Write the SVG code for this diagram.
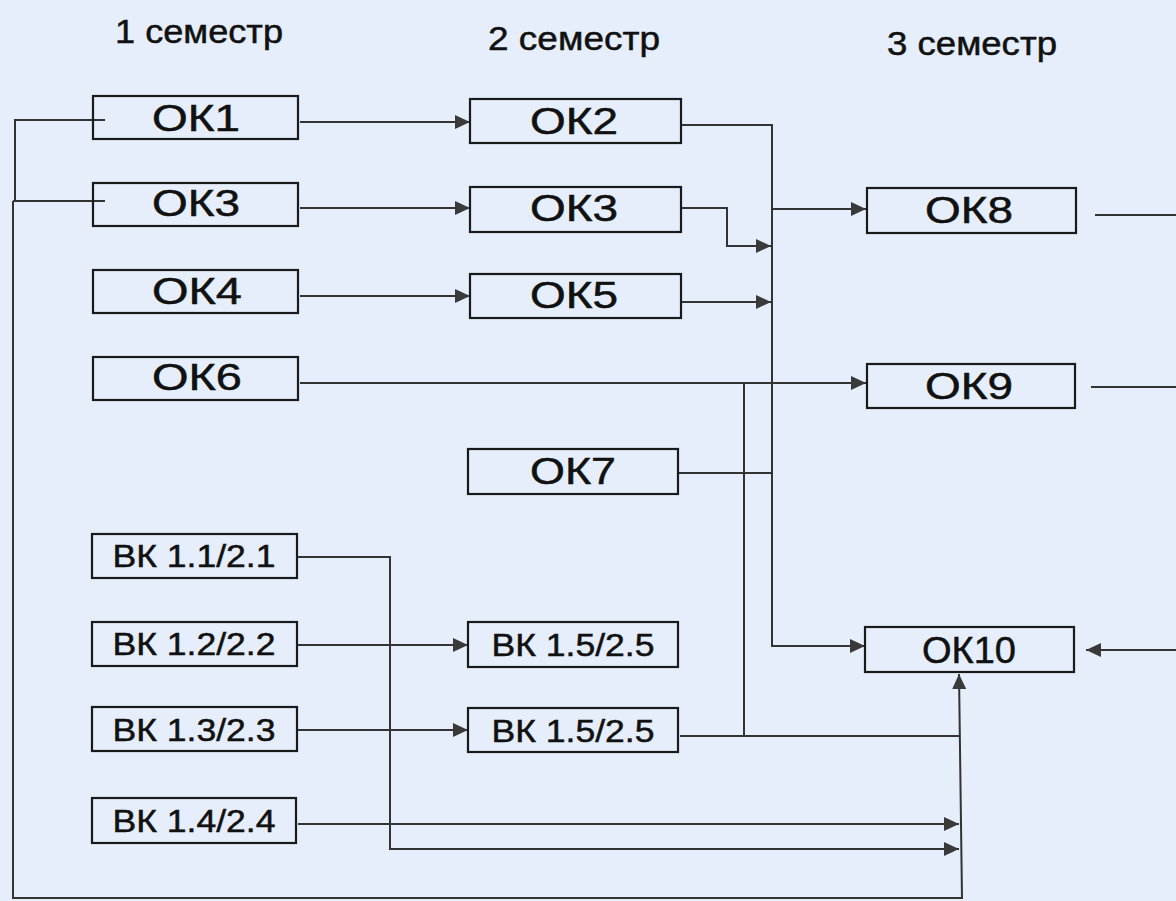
<svg xmlns="http://www.w3.org/2000/svg" width="1176" height="901" viewBox="0 0 1176 901">
<defs>
<marker id="arr" markerUnits="userSpaceOnUse" markerWidth="16" markerHeight="14" refX="15" refY="7" orient="auto">
<path d="M0,0 L15,7 L0,14 Z" fill="#3a3a3a"/>
</marker>
<style>
.box{fill:none;stroke:#1a1a1a;stroke-width:2.2}
.lbl{font-family:"Liberation Sans",Arial,sans-serif;font-size:32px;fill:#111;stroke:#111;stroke-width:0.5;text-anchor:middle}
.ok{font-size:37px}
.ttl{font-family:"Liberation Sans",Arial,sans-serif;font-size:33px;fill:#111;stroke:#111;stroke-width:0.5}
.c{fill:none;stroke:#333;stroke-width:2}
.a{fill:none;stroke:#333;stroke-width:2;marker-end:url(#arr)}
</style>
</defs>
<rect width="1176" height="901" fill="#e5eefa"/>
<g id="titles">
<text class="ttl" x="115" y="43" textLength="168" lengthAdjust="spacingAndGlyphs">1 семестр</text>
<text class="ttl" x="488" y="50" textLength="172" lengthAdjust="spacingAndGlyphs">2 семестр</text>
<text class="ttl" x="887" y="55" textLength="170" lengthAdjust="spacingAndGlyphs">3 семестр</text>
</g>
<g id="connectors">
<path class="a" d="M300,122 H470"/>
<path class="a" d="M300,208 H470"/>
<path class="a" d="M300,296 H470"/>
<path class="a" d="M300,383 H866"/>
<path class="a" d="M298,645 H468"/>
<path class="a" d="M298,730 H468"/>
<path class="a" d="M298,824 H959"/>
<path class="a" d="M298,557 H390 V849 H959"/>
<path class="a" d="M681,125 H772 V646 H865"/>
<path class="a" d="M681,208 H727 V246 H771"/>
<path class="a" d="M681,302 H771"/>
<path class="a" d="M772,209 H866"/>
<path class="c" d="M678,473 H773"/>
<path class="c" d="M744,383 V736"/>
<path class="c" d="M680,736 H959"/>
<path class="c" d="M105,120 H15 V201"/>
<path class="c" d="M105,201 H13"/>
<path class="a" d="M13,201 V898 H962 L959,674"/>
<path class="c" d="M1095,215 H1176"/>
<path class="c" d="M1091,387 H1176"/>
<path class="a" d="M1176,650 H1086"/>
</g>
<g id="ok1"><rect class="box" x="93" y="96" width="205" height="43"/><text class="lbl ok" x="196" y="131" textLength="88" lengthAdjust="spacingAndGlyphs">ОК1</text></g>
<g id="ok3a"><rect class="box" x="93" y="183" width="205" height="43"/><text class="lbl ok" x="196" y="216" textLength="88" lengthAdjust="spacingAndGlyphs">ОК3</text></g>
<g id="ok4"><rect class="box" x="93" y="270" width="205" height="43"/><text class="lbl ok" x="197" y="304" textLength="90" lengthAdjust="spacingAndGlyphs">ОК4</text></g>
<g id="ok6"><rect class="box" x="93" y="357" width="205" height="43"/><text class="lbl ok" x="197" y="390" textLength="90" lengthAdjust="spacingAndGlyphs">ОК6</text></g>
<g id="vk11"><rect class="box" x="92" y="534" width="205" height="44"/><text class="lbl" x="194" y="567" textLength="163" lengthAdjust="spacingAndGlyphs">ВК 1.1/2.1</text></g>
<g id="vk12"><rect class="box" x="92" y="622" width="205" height="44"/><text class="lbl" x="194" y="655" textLength="163" lengthAdjust="spacingAndGlyphs">ВК 1.2/2.2</text></g>
<g id="vk13"><rect class="box" x="92" y="707" width="205" height="44"/><text class="lbl" x="194" y="741" textLength="163" lengthAdjust="spacingAndGlyphs">ВК 1.3/2.3</text></g>
<g id="vk14"><rect class="box" x="92" y="798" width="204" height="45"/><text class="lbl" x="194" y="832" textLength="163" lengthAdjust="spacingAndGlyphs">ВК 1.4/2.4</text></g>
<g id="ok2"><rect class="box" x="470" y="99" width="211" height="44"/><text class="lbl ok" x="574" y="134" textLength="88" lengthAdjust="spacingAndGlyphs">ОК2</text></g>
<g id="ok3b"><rect class="box" x="470" y="187" width="211" height="45"/><text class="lbl ok" x="574" y="221" textLength="88" lengthAdjust="spacingAndGlyphs">ОК3</text></g>
<g id="ok5"><rect class="box" x="470" y="274" width="211" height="44"/><text class="lbl ok" x="574" y="308" textLength="88" lengthAdjust="spacingAndGlyphs">ОК5</text></g>
<g id="ok7"><rect class="box" x="468" y="449" width="210" height="45"/><text class="lbl ok" x="573" y="484" textLength="86" lengthAdjust="spacingAndGlyphs">ОК7</text></g>
<g id="vk15a"><rect class="box" x="468" y="622" width="210" height="45"/><text class="lbl" x="573" y="656" textLength="163" lengthAdjust="spacingAndGlyphs">ВК 1.5/2.5</text></g>
<g id="vk15b"><rect class="box" x="468" y="708" width="210" height="44"/><text class="lbl" x="573" y="742" textLength="163" lengthAdjust="spacingAndGlyphs">ВК 1.5/2.5</text></g>
<g id="ok8"><rect class="box" x="867" y="188" width="209" height="45"/><text class="lbl ok" x="969" y="223" textLength="88" lengthAdjust="spacingAndGlyphs">ОК8</text></g>
<g id="ok9"><rect class="box" x="867" y="364" width="208" height="44"/><text class="lbl ok" x="969" y="399" textLength="88" lengthAdjust="spacingAndGlyphs">ОК9</text></g>
<g id="ok10"><rect class="box" x="865" y="627" width="209" height="45"/><text class="lbl ok" x="969" y="663" textLength="94" lengthAdjust="spacingAndGlyphs">ОК10</text></g>
</svg>
